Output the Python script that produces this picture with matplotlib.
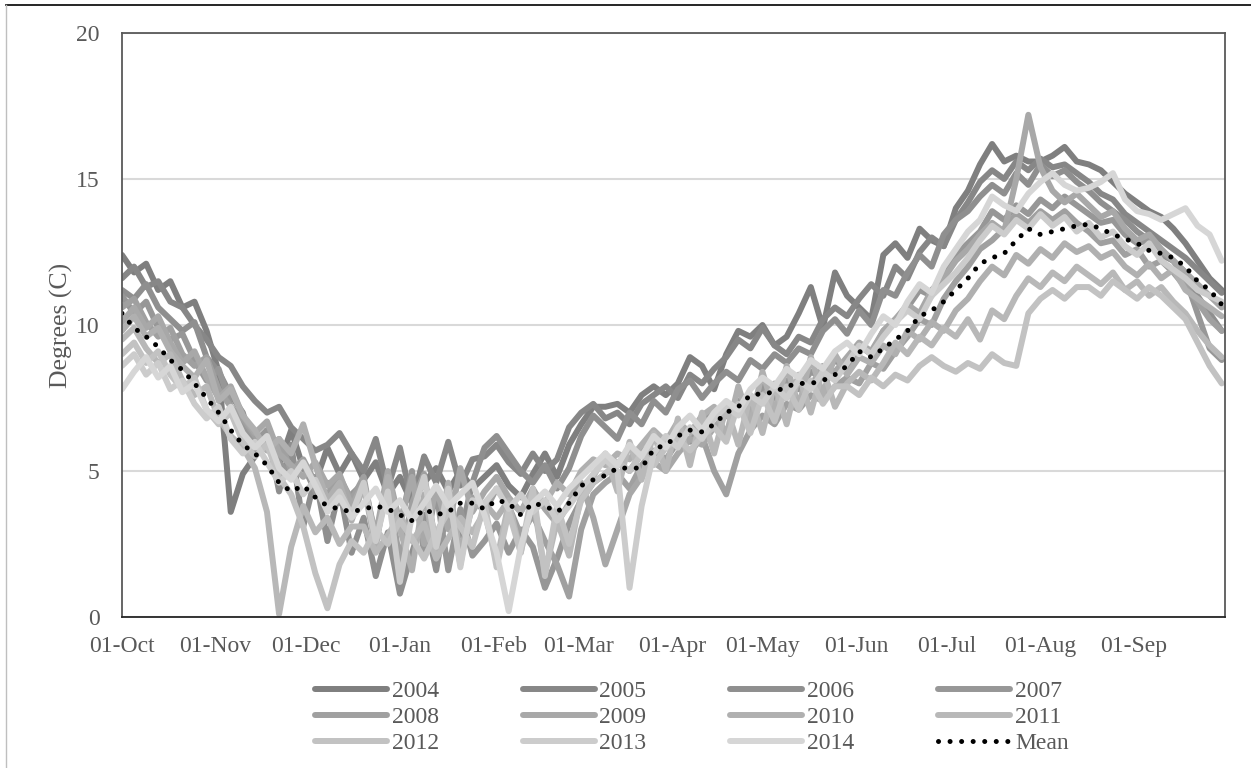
import numpy as np
import matplotlib
matplotlib.use("Agg")
from matplotlib import pyplot as plt
from matplotlib.lines import Line2D

plt.rcParams['font.family'] = ['Liberation Serif', 'DejaVu Serif']

# sample days counted from 01-Oct (every 4th day)
days = np.arange(0, 365, 4)

month_pos = [0, 31, 61, 92, 123, 151, 182, 212, 243, 273, 304, 335]
month_lab = ['01-Oct', '01-Nov', '01-Dec', '01-Jan', '01-Feb', '01-Mar',
             '01-Apr', '01-May', '01-Jun', '01-Jul', '01-Aug', '01-Sep']

y2004 = [12.4, 11.8, 12.1, 11.2, 11.5, 10.6, 10.8, 9.8, 8.4, 3.6,
         4.9, 5.5, 6.1, 5.2, 6.4, 5.1, 4.6, 5.8, 4.9, 5.6,
         4.7, 5.3, 4.2, 4.8, 3.9, 4.6, 5.1, 4.3, 5.0, 4.4,
         4.8, 5.2, 4.5, 4.1, 4.9, 5.6, 4.8, 5.9, 6.6, 7.2,
         7.2, 7.3, 7.0, 7.6, 7.9, 7.6, 8.0, 8.9, 8.6, 7.8,
         9.0, 9.8, 9.6, 10.0, 9.3, 9.6, 10.4, 11.3, 9.9, 11.8,
         11.0, 10.6, 10.2, 12.4, 12.8, 12.3, 13.3, 12.9, 12.7, 14.0,
         14.6, 15.5, 16.2, 15.6, 15.8, 15.6, 15.6, 15.8, 16.1, 15.6,
         15.5, 15.3, 14.9, 14.5, 14.2, 13.9, 13.7, 13.3, 12.8, 12.2,
         11.6, 11.2]
y2005 = [11.6, 12.0, 11.3, 11.5, 10.8, 10.6, 10.0, 9.5, 8.9, 8.6,
         7.9, 7.4, 7.0, 7.2, 6.5, 6.1, 5.7, 5.9, 6.3, 5.6,
         5.0, 6.1, 4.4, 5.8, 3.9, 5.5, 4.6, 6.0, 4.5, 5.4,
         5.5, 5.9, 5.3, 4.9, 5.6, 5.0, 5.4, 6.5, 7.0, 7.3,
         6.8, 7.0, 6.6, 7.3, 7.6, 7.9, 7.5, 8.3, 8.0, 8.5,
         8.9, 9.5, 9.2, 9.9, 9.3, 9.0, 9.6, 9.4, 10.2, 10.6,
         10.3, 10.9, 11.4, 11.0, 12.0, 11.6, 12.5, 13.0, 12.7, 13.6,
         14.2, 14.9, 15.3, 15.0, 15.6, 15.3, 15.7, 15.4, 15.5, 15.2,
         14.9, 14.5, 14.3, 13.8, 13.5, 13.2, 12.9, 12.6, 12.3, 11.9,
         11.5, 11.1]
y2006 = [11.2, 10.9, 11.4, 10.6, 10.2, 9.8, 10.1, 8.9, 8.4, 7.6,
         7.0, 5.6, 6.4, 4.3, 5.9, 3.1, 4.8, 2.6, 4.4, 2.2,
         3.4, 1.4, 2.9, 0.8, 2.2, 3.5, 1.6, 4.0, 2.8, 4.6,
         5.8, 6.2, 5.6, 5.0, 4.6, 5.2, 4.4, 5.1, 6.2, 6.9,
         6.5, 6.1, 7.0, 6.6, 7.4, 7.0, 7.8, 8.1, 7.5, 8.0,
         8.4, 8.1, 8.8, 8.5, 9.0, 8.7, 9.2, 9.0, 9.8, 10.2,
         9.7, 10.5, 10.0, 11.2, 11.0, 11.8, 12.4, 12.0, 13.1, 13.6,
         13.9, 14.4, 14.8, 14.5, 15.2, 14.8, 15.5, 15.1, 15.3, 14.9,
         14.6, 14.2, 13.9, 13.6, 13.2, 12.9, 12.4, 12.2, 11.8, 11.0,
         10.4, 9.8]
y2007 = [11.0, 10.4, 10.8, 9.9, 9.5, 9.7, 8.8, 8.1, 8.5, 7.2,
         6.6, 6.0, 6.4, 5.3, 4.8, 5.2, 4.3, 4.6, 3.9, 4.2,
         4.6, 2.5, 4.9, 3.1, 5.0, 2.2, 4.3, 1.6, 3.7, 2.1,
         2.6, 3.2, 2.2, 3.0, 2.4, 1.0, 2.0, 3.2, 4.0, 4.6,
         4.9, 5.3, 5.0, 5.6, 6.1, 5.8, 6.4, 6.0, 6.7, 7.1,
         6.9, 7.4, 7.2, 7.9, 7.5, 8.1, 7.8, 8.4, 8.2, 8.8,
         8.5, 9.3, 9.0, 9.8, 10.2, 10.6, 11.2, 11.0, 11.9, 12.4,
         12.8, 13.2, 13.9, 13.6, 14.1, 13.8, 14.3, 14.0, 14.4, 14.1,
         13.8, 13.5, 13.6, 13.1, 12.8, 12.9, 12.5, 12.2, 11.6, 10.4,
         9.2, 8.8]
y2008 = [10.6, 10.9, 10.1, 9.6, 9.9, 9.0, 8.6, 8.9, 7.8, 7.2,
         6.8, 6.2, 5.8, 6.1, 5.0, 5.4, 4.6, 4.2, 4.8, 4.0,
         4.8, 2.6, 4.5, 1.9, 3.9, 4.9, 2.4, 4.3, 1.8, 4.1,
         3.6, 4.4, 3.8, 2.8, 3.5, 2.6, 1.8, 0.7, 3.0, 4.2,
         4.6, 4.9, 4.4, 5.2, 5.7, 5.4, 6.0, 5.6, 6.2, 5.0,
         4.2, 5.6, 6.4, 6.9, 6.6, 7.3, 7.1, 7.6, 7.4, 7.9,
         8.2, 8.0, 8.7, 8.5, 9.1, 9.6, 10.2, 10.0, 10.9, 11.5,
         12.0, 12.6, 12.9, 13.3, 13.8, 13.5, 13.9, 13.6, 13.9, 13.5,
         13.2, 12.8, 12.9, 12.4, 12.6, 12.0, 12.2, 11.8, 11.3, 10.8,
         10.2, 9.8]
y2009 = [10.1, 10.6, 9.9, 10.3, 9.4, 8.7, 9.1, 8.2, 7.5, 7.9,
         6.9, 6.3, 6.7, 5.6, 5.2, 4.8, 5.3, 4.5, 4.9, 3.8,
         4.6, 2.8, 5.0, 3.2, 4.8, 2.5, 4.4, 3.0, 5.1, 3.6,
         4.3, 4.8, 4.1, 3.6, 4.4, 3.7, 3.2, 3.9, 4.6, 3.4,
         1.8, 3.0, 4.2, 4.8, 5.3, 5.0, 5.6, 6.1, 5.9, 6.5,
         6.9, 7.3, 7.0, 7.6, 7.9, 7.5, 8.2, 7.9, 8.6, 8.4,
         8.9, 9.4, 9.1, 9.8, 10.2, 10.7, 10.4, 11.2, 11.6, 12.2,
         12.6, 13.1, 13.5, 13.2, 15.0, 17.2, 15.4, 14.6, 14.2, 14.5,
         14.1, 13.7, 13.9, 13.3, 12.9, 13.1, 12.6, 12.2, 11.8, 11.4,
         11.0, 10.6]
y2010 = [9.8, 10.3, 9.6, 9.9, 9.1, 8.6, 8.2, 8.8, 7.4, 7.8,
         6.9, 6.4, 5.7, 6.1, 5.6, 6.6, 5.2, 4.0, 4.6, 3.3,
         4.5, 2.4, 4.8, 3.0, 1.6, 4.2, 2.3, 4.6, 2.2, 3.8,
         3.9, 3.4, 4.0, 3.6, 4.3, 3.9, 4.6, 4.2, 5.0, 5.4,
         5.2, 5.6, 5.4, 5.9, 6.4, 6.0, 6.7, 6.3, 6.9, 7.2,
         6.2, 7.9, 6.6, 8.4, 7.0, 8.6, 7.2, 8.9, 7.6, 9.0,
         8.3, 8.9, 8.7, 9.3, 9.0, 9.8, 9.5, 10.1, 9.8, 10.5,
         10.9, 11.5, 12.0, 11.7, 12.4, 12.1, 12.6, 12.3, 12.8, 12.5,
         12.7, 12.3, 12.5, 12.0, 11.7, 12.1, 11.6, 11.9, 11.2, 10.9,
         10.6, 10.3]
y2011 = [9.5, 9.9, 9.2, 8.7, 9.0, 8.1, 7.6, 7.9, 6.8, 6.2,
         5.8, 5.1, 3.6, 0.1, 2.4, 3.8, 2.9, 3.4, 2.5, 3.1,
         3.1, 2.2, 2.8, 3.5, 2.6, 3.2, 2.0, 2.7, 3.4, 2.9,
         3.6, 1.9, 3.9, 2.2, 4.1, 1.5, 3.3, 2.1, 4.2, 4.8,
         5.6, 4.3, 6.0, 4.7, 6.3, 5.0, 6.8, 5.2, 7.0, 5.6,
         7.2, 5.9, 7.6, 6.3, 8.0, 6.6, 8.3, 7.0, 8.5, 7.2,
         8.0, 8.4, 8.1, 8.7, 9.4, 9.0, 9.6, 9.3, 9.9, 9.6,
         10.2, 9.5, 10.5, 10.2, 11.0, 11.6, 11.3, 11.8, 11.5, 12.0,
         11.7, 11.4, 11.8, 11.2, 11.5, 11.0, 11.3, 10.8, 10.4, 9.8,
         9.3, 8.9]
y2012 = [9.0, 9.4, 8.7, 9.1, 8.3, 7.8, 8.2, 7.1, 6.6, 7.0,
         6.0, 5.5, 5.9, 4.8, 4.2, 3.1, 1.5, 0.3, 1.8, 2.6,
         2.2, 3.0, 2.5, 3.3, 2.7, 2.0, 2.9, 3.6, 3.1, 2.4,
         3.9, 1.7, 3.6, 2.2, 4.4, 1.4, 3.8, 2.5, 4.0, 4.6,
         4.9, 5.3, 5.0, 5.6, 5.2, 5.8, 6.1, 5.7, 6.2, 6.5,
         6.0, 7.3, 6.3, 7.6, 6.7, 7.9, 7.1, 8.1, 7.3, 7.9,
         7.9, 7.6, 8.2, 7.9, 8.3, 8.1, 8.6, 8.9, 8.6, 8.4,
         8.7, 8.5, 9.0, 8.7, 8.6, 10.4, 10.9, 11.2, 10.9, 11.3,
         11.3, 11.0, 11.5, 11.2, 10.9, 11.3, 11.0, 10.6, 10.2, 9.4,
         8.6, 8.0]
y2013 = [8.6, 9.0, 8.3, 8.7, 7.8, 8.1, 7.3, 6.8, 7.2, 6.1,
         5.6, 6.0, 5.3, 4.6, 5.0, 4.2, 4.7, 3.8, 4.3, 3.5,
         4.6, 2.6, 4.3, 1.2, 3.5, 4.8, 2.4, 4.4, 1.7, 4.0,
         3.9, 4.4, 3.7, 4.2, 3.6, 4.0, 3.3, 3.8, 4.4, 4.9,
         5.4, 5.0, 1.0, 3.8, 5.6, 6.2, 5.8, 6.5, 6.1, 6.8,
         7.2, 6.9, 7.6, 7.3, 7.9, 7.5, 8.1, 7.8, 8.4, 8.1,
         8.7, 9.3, 9.0, 9.6, 10.1, 10.5, 10.2, 11.0, 11.4, 11.8,
         12.3, 12.9, 13.4, 13.1, 13.6, 13.3, 13.8, 13.4, 13.7, 13.2,
         13.5, 13.0, 13.2, 12.7, 12.4, 12.8, 12.2, 11.9, 11.6, 11.2,
         11.0, 10.8]
y2014 = [7.8, 8.4, 8.9, 8.2, 8.6, 7.7, 8.0, 7.1, 6.7, 7.2,
         6.3, 5.8, 6.2, 5.1, 4.7, 5.3, 4.5, 3.6, 4.1, 3.4,
         3.9, 4.4, 3.6, 4.0, 3.3, 3.9, 4.5, 3.8, 4.2, 4.6,
         3.5, 2.2, 0.2, 2.4, 3.9, 4.3, 3.8, 4.4, 4.8, 5.2,
         5.6, 5.2, 5.9, 5.5, 6.2, 5.8, 6.5, 6.9, 6.4, 7.0,
         7.4, 7.1, 7.8, 8.2, 7.9, 8.5, 8.2, 8.8, 8.5, 9.1,
         9.4, 9.0, 9.7, 10.3, 10.0, 10.8, 11.4, 11.1, 12.0, 12.6,
         13.2, 13.6, 14.4, 14.1, 13.9, 14.5, 14.9, 15.2, 14.8, 14.6,
         14.7, 14.9, 15.2, 14.3, 13.9, 13.8, 13.6, 13.8, 14.0, 13.4,
         13.1, 12.2]
mean_t = [10.4, 9.9, 9.6, 9.25, 8.8, 8.46, 8.0, 7.5, 7.0, 6.4,
          5.9, 5.6, 5.2, 4.6, 4.3, 4.5, 4.1, 3.8, 3.7, 3.6,
          3.7, 3.8, 3.7, 3.5, 3.3, 3.7, 3.5, 3.6, 3.9, 3.9,
          3.7, 4.0, 3.9, 3.5, 3.9, 3.8, 3.6, 3.9, 4.5, 4.7,
          4.85, 5.1, 5.1, 5.1, 5.75, 5.9, 6.2, 6.4, 6.34, 6.6,
          7.0, 7.2, 7.6, 7.65, 7.7, 7.9, 8.0, 8.0, 8.1, 8.3,
          8.6, 9.1, 8.9, 9.2, 9.5, 9.8, 10.3, 10.5, 10.8, 11.2,
          11.6, 12.1, 12.3, 12.45, 12.9, 13.3, 13.1, 13.2, 13.3, 13.4,
          13.45, 13.3, 13.1, 12.95, 12.8, 12.55, 12.45, 12.3, 12.0, 11.5,
          11.2, 10.7]

years = ['2004', '2005', '2006', '2007', '2008', '2009',
         '2010', '2011', '2012', '2013', '2014']
series = [y2004, y2005, y2006, y2007, y2008, y2009,
          y2010, y2011, y2012, y2013, y2014]
greys = ['#7f7f7f', '#878787', '#8f8f8f', '#979797', '#a0a0a0', '#a8a8a8',
         '#b0b0b0', '#b8b8b8', '#c2c2c2', '#cccccc', '#d6d6d6']

fig = plt.figure(figsize=(12.51, 7.68), dpi=100)
ax = fig.add_axes([0.0975, 0.1966, 0.8815, 0.7604])

for lab, vals, col in zip(years, series, greys):
    ax.plot(days, vals, color=col, lw=4.3, label=lab,
            solid_joinstyle='round', solid_capstyle='round')
ax.plot(days, mean_t, color='black', lw=3.6, linestyle=(0, (0.01, 2.3)),
        dash_capstyle='round', label='Mean')

ax.set_xlim(0, 365)
ax.set_ylim(0, 20)
ax.set_yticks([0, 5, 10, 15, 20])
ax.set_xticks(month_pos)
ax.set_xticklabels(month_lab)
ax.yaxis.grid(True, color='#d9d9d9', lw=1.5)
ax.set_axisbelow(True)
ax.tick_params(length=0, labelsize=17, labelcolor='#595959')
ax.tick_params(axis='y', pad=16)
ax.tick_params(axis='x', pad=14)
for s in ['top', 'left', 'right']:
    ax.spines[s].set_color('#595959')
    ax.spines[s].set_linewidth(1.3)
ax.spines['bottom'].set_color('#262626')
ax.spines['bottom'].set_linewidth(1.3)
ax.set_ylabel('Degrees (C)', fontsize=18.5, color='#595959', labelpad=2)

# legend filled row by row, 4 columns
h, l = ax.get_legend_handles_labels()
order = [0, 4, 8, 1, 5, 9, 2, 6, 10, 3, 7, 11]
leg = ax.legend([h[i] for i in order], [l[i] for i in order],
                loc='center', bbox_to_anchor=(0.553, 0.066),
                bbox_transform=fig.transFigure, ncol=4, frameon=False,
                fontsize=17, handlelength=3.05, handletextpad=0.2,
                columnspacing=3.55, labelspacing=0.2)
for t in leg.get_texts():
    t.set_color('#595959')

# chart-area border
fig.add_artist(Line2D([6 / 1251, 1], [1 - 5 / 768, 1 - 5 / 768],
                      transform=fig.transFigure, color='black', lw=1.2))
fig.add_artist(Line2D([6 / 1251, 6 / 1251], [0, 1 - 5 / 768],
                      transform=fig.transFigure, color='#bfbfbf', lw=1.0))

fig.savefig('out.png', dpi=100)
